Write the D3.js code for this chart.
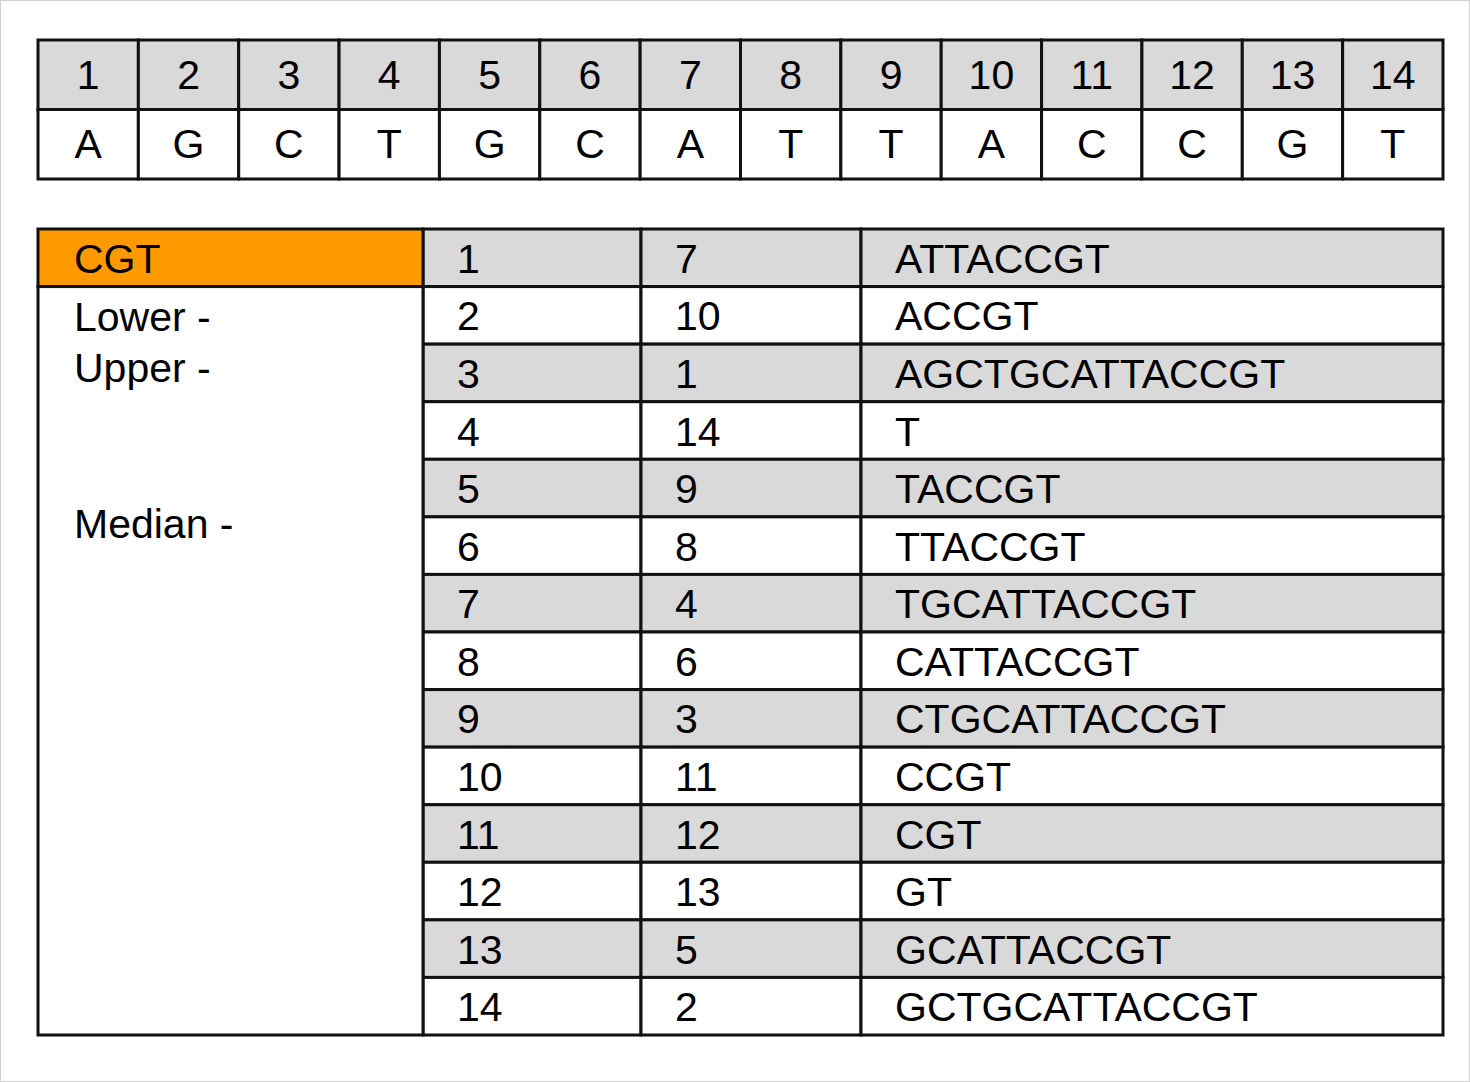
<!DOCTYPE html>
<html><head><meta charset="utf-8">
<script src="https://cdn.jsdelivr.net/npm/d3@7"></script>
<style>body{margin:0;background:#fff}svg{display:block}</style>
</head><body>
<svg id="chart" width="1470" height="1082"></svg>
<script>
const positions = d3.range(1, 15);
const bases = ['A','G','C','T','G','C','A','T','T','A','C','C','G','T'];
const rank = d3.range(1, 15);
const suffixStart = [7, 10, 1, 14, 9, 8, 4, 6, 3, 11, 12, 13, 5, 2];
const suffixes = ['ATTACCGT','ACCGT','AGCTGCATTACCGT','T','TACCGT','TTACCGT','TGCATTACCGT',
  'CATTACCGT','CTGCATTACCGT','CCGT','CGT','GT','GCATTACCGT','GCTGCATTACCGT'];
const query = 'CGT';
const notes = [{label: 'Lower -', row: 1}, {label: 'Upper -', row: 1.9}, {label: 'Median -', row: 4.6}];

const svg = d3.select('#chart');
const font = 'Liberation Sans, Arial, sans-serif';
const gray = '#d9d9d9', orange = '#ff9900';
svg.append('rect').attr('x', 0.5).attr('y', 0.5).attr('width', 1469).attr('height', 1081)
  .attr('fill', '#fff').attr('stroke', '#d0d0d0');

// top table
const xTop = d3.scaleBand().domain(positions).range([38, 1443]);
const yTop = d3.scaleBand().domain(['pos', 'base']).range([40, 179]);
const seqG = svg.append('g');
positions.forEach((p, i) => {
  [['pos', p, gray], ['base', bases[i], '#fff']].forEach(([r, t, f]) => {
    seqG.append('rect').attr('x', xTop(p)).attr('y', yTop(r))
      .attr('width', xTop.bandwidth()).attr('height', yTop.bandwidth())
      .attr('fill', f).attr('stroke', '#111').attr('stroke-width', 3);
    seqG.append('text').attr('x', xTop(p) + xTop.bandwidth() / 2)
      .attr('y', yTop(r) + yTop.bandwidth() / 2 + 14)
      .attr('text-anchor', 'middle').attr('font-family', font).attr('font-size', 41).text(t);
  });
});

// bottom table
const colEdges = [38, 423, 641, 861, 1443];
const yRow = d3.scaleBand().domain(d3.range(14)).range([229, 1035]);
const bot = svg.append('g');
rank.forEach((r, i) => {
  const fill = i % 2 === 0 ? gray : '#fff';
  [rank[i], suffixStart[i], suffixes[i]].forEach((t, c) => {
    const x0 = colEdges[c + 1], x1 = colEdges[c + 2];
    bot.append('rect').attr('x', x0).attr('y', yRow(i)).attr('width', x1 - x0)
      .attr('height', yRow.bandwidth()).attr('fill', fill)
      .attr('stroke', '#111').attr('stroke-width', 3);
    bot.append('text').attr('x', x0 + 34).attr('y', yRow(i) + yRow.bandwidth() / 2 + 15)
      .attr('font-family', font).attr('font-size', 41).text(t);
  });
});
// left column
bot.append('rect').attr('x', colEdges[0]).attr('y', yRow(0)).attr('width', colEdges[1] - colEdges[0])
  .attr('height', yRow.bandwidth()).attr('fill', orange).attr('stroke', '#111').attr('stroke-width', 3);
bot.append('text').attr('x', 74).attr('y', yRow(0) + yRow.bandwidth() / 2 + 15)
  .attr('font-family', font).attr('font-size', 41).text(query);
bot.append('rect').attr('x', colEdges[0]).attr('y', yRow(1)).attr('width', colEdges[1] - colEdges[0])
  .attr('height', 1035 - yRow(1)).attr('fill', '#fff').attr('stroke', '#111').attr('stroke-width', 3);
notes.forEach(n => {
  bot.append('text').attr('x', 74).attr('y', yRow(0) + n.row * yRow.bandwidth() + 44)
    .attr('font-family', font).attr('font-size', 41).text(n.label);
});
</script>
</body></html>
